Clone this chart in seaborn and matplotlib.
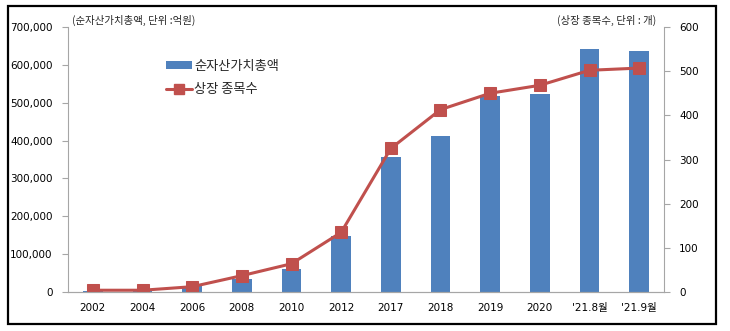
import numpy as np
import pandas as pd
import matplotlib
matplotlib.use("Agg")
import matplotlib.pyplot as plt
import seaborn as sns
from matplotlib.patches import Rectangle, Patch
from matplotlib.lines import Line2D
from matplotlib.ticker import FuncFormatter, FixedLocator

categories = ["2002", "2004", "2006", "2008", "2010", "2012", "2017", "2018",
              "2019", "2020", "'21.8월", "'21.9월"]
net_assets = [3400, 3500, 16000, 34000, 60600, 148000, 357000, 412000,
              517500, 522000, 642500, 637000]
listed_counts = [4, 4, 12, 37, 64, 135, 325, 413, 450, 468, 502, 507]

bar_label = "순자산가치총액"
line_label = "상장 종목수"
left_note = "(순자산가치총액, 단위 :억원)"
right_note = "(상장 종목수, 단위 : 개)"

sns.set_style("white")
plt.rcParams['font.family'] = ['DejaVu Sans', 'Noto Sans CJK KR']

BLUE = "#4F81BD"
RED = "#C0504D"
GRAY = "#A6A6A6"

fig = plt.figure(figsize=(7.30, 3.31), dpi=100)
ax = fig.add_axes([68/730, 1 - 292/331, (664 - 68)/730, (292 - 27)/331])

df = pd.DataFrame({"cat": categories, "val": net_assets})
sns.barplot(data=df, x="cat", y="val", color=BLUE, width=0.4, ax=ax,
            saturation=1, edgecolor="none")

ax2 = ax.twinx()
pos = np.arange(len(categories))
sns.lineplot(x=pos, y=listed_counts, ax=ax2, color=RED, linewidth=2.2,
             marker="s", markersize=8, markeredgecolor=RED)

ax.set_xlim(-0.5, len(categories) - 0.5)
ax.set_ylim(0, 700000)
ax2.set_ylim(0, 600)
ax.set_yticks(np.arange(0, 700001, 100000))
ax2.set_yticks(np.arange(0, 601, 100))
ax.yaxis.set_major_formatter(FuncFormatter(lambda v, p: f"{int(v):,}"))
ax.set_xlabel("")
ax.set_ylabel("")
ax2.set_ylabel("")

ax.xaxis.set_minor_locator(FixedLocator(np.arange(-0.5, len(categories), 1.0)))
ax.tick_params(axis="x", which="major", length=0, pad=8, labelsize=7.5, colors="#000000")
ax.tick_params(axis="x", which="minor", length=4, width=0.8, color=GRAY, direction="out")
ax.tick_params(axis="y", length=4, width=0.8, color=GRAY, pad=7, labelsize=7.5, labelcolor="#000000")
ax2.tick_params(axis="y", length=4, width=0.8, color=GRAY, pad=7, labelsize=7.5, labelcolor="#000000")
for lab in ax.get_xticklabels():
    lab.set_family(['DejaVu Sans', 'Noto Sans CJK KR'])

for a in (ax, ax2):
    for s in a.spines.values():
        s.set_visible(False)
    a.spines["bottom"].set_visible(True)
    a.spines["bottom"].set_color(GRAY)
ax.spines["left"].set_visible(True)
ax.spines["left"].set_color(GRAY)
ax2.spines["right"].set_visible(True)
ax2.spines["right"].set_color(GRAY)
ax.grid(False)
ax2.grid(False)

fig.text(72/730, 1 - 20/331, left_note, fontsize=7.5,
         family=['Noto Sans CJK KR', 'DejaVu Sans'], va="center", ha="left")
fig.text(656/730, 1 - 20/331, right_note, fontsize=7.5,
         family=['Noto Sans CJK KR', 'DejaVu Sans'], va="center", ha="right")

handles = [Patch(facecolor=BLUE, edgecolor="none"),
           Line2D([0], [0], color=RED, linewidth=2.2, marker="s", markersize=7)]
leg = fig.legend(handles, [bar_label, line_label], loc="upper left",
                 bbox_to_anchor=(154/730, 1 - 48/331), frameon=False,
                 prop={"family": "Noto Sans CJK KR", "size": 9.5},
                 handlelength=2.0, handleheight=0.5, handletextpad=0.15,
                 labelspacing=0.75)

fig.patches.append(Rectangle((8/730, 1 - 324/331), (716 - 8)/730, (324 - 6)/331,
                             transform=fig.transFigure, fill=False,
                             edgecolor="#000000", linewidth=1.6))

fig.savefig("out.png", dpi=100)
